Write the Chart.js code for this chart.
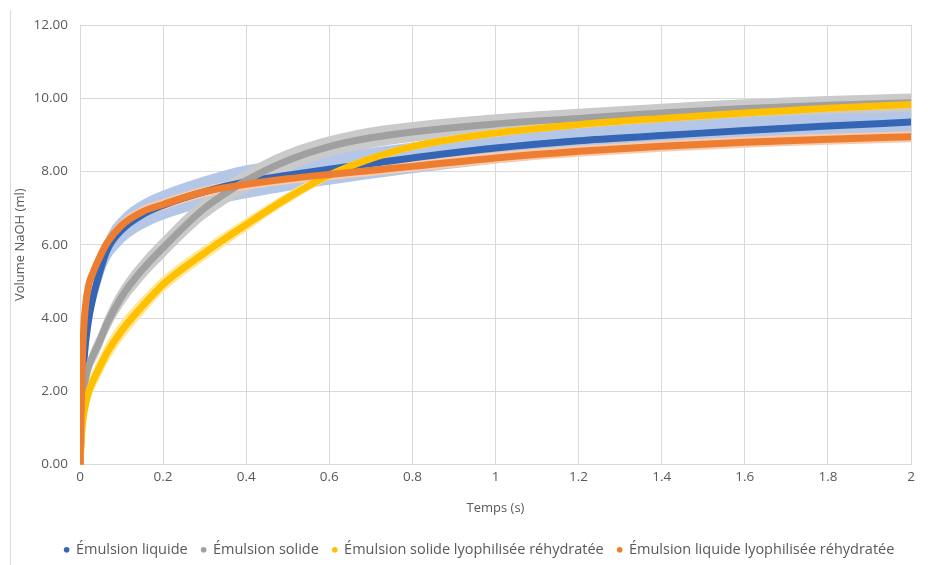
<!DOCTYPE html>
<html>
<head>
<meta charset="utf-8">
<script src="https://cdn.jsdelivr.net/npm/chart.js@4/dist/chart.umd.min.js"></script>
<style>
  html, body { margin: 0; padding: 0; background: #fff; }
  #wrap { position: relative; width: 928px; height: 565px; }
  #frame { position: absolute; left: 10px; top: 10px; width: 0; height: 555px; border-left: 1px solid #d9d9d9; }
</style>
</head>
<body>
<div id="wrap">
  <div id="frame"></div>
  <canvas id="chart" width="928" height="565"></canvas>
</div>
<script>
// time axis (s)
const timeS = [0, 0.005, 0.01, 0.02, 0.03, 0.045, 0.065, 0.1, 0.15, 0.2, 0.3, 0.4, 0.5, 0.6, 0.7, 0.8, 1.0, 1.2, 1.4, 1.6, 1.8, 2.0];

// mean volumes (ml) and spread for each sample
const liquide      = [0, 1.8, 2.9, 3.9, 4.5, 5.15, 5.85, 6.4, 6.82, 7.08, 7.45, 7.72, 7.9, 8.06, 8.22, 8.37, 8.64, 8.84, 8.98, 9.12, 9.24, 9.35];
const liquideSd    = [0, 0.2, 0.3, 0.35, 0.4, 0.4, 0.4, 0.4, 0.4, 0.4, 0.42, 0.45, 0.43, 0.42, 0.42, 0.42, 0.42, 0.4, 0.38, 0.37, 0.36, 0.35];
const solide       = [0, 1.5, 2.1, 2.65, 2.95, 3.3, 3.85, 4.58, 5.32, 5.92, 7.0, 7.75, 8.3, 8.68, 8.92, 9.08, 9.3, 9.45, 9.6, 9.72, 9.81, 9.88];
const solideSd     = [0, 0.15, 0.2, 0.25, 0.28, 0.3, 0.3, 0.3, 0.3, 0.3, 0.3, 0.3, 0.3, 0.28, 0.28, 0.27, 0.26, 0.26, 0.25, 0.25, 0.25, 0.25];
const solideLyo    = [0, 1.0, 1.45, 1.95, 2.25, 2.6, 3.05, 3.65, 4.32, 4.92, 5.78, 6.55, 7.28, 7.9, 8.35, 8.68, 9.05, 9.28, 9.45, 9.6, 9.73, 9.83];
const solideLyoSd  = [0, 0.2, 0.25, 0.3, 0.3, 0.3, 0.3, 0.28, 0.25, 0.22, 0.2, 0.18, 0.15, 0.12, 0.1, 0.1, 0.1, 0.1, 0.1, 0.1, 0.1, 0.1];
const liquideLyo   = [0, 2.6, 3.9, 4.85, 5.2, 5.6, 6.05, 6.53, 6.9, 7.1, 7.45, 7.65, 7.8, 7.92, 8.03, 8.14, 8.37, 8.55, 8.69, 8.8, 8.88, 8.95];
const liquideLyoSd = [0, 0.1, 0.12, 0.15, 0.15, 0.15, 0.15, 0.15, 0.15, 0.15, 0.15, 0.15, 0.15, 0.15, 0.15, 0.15, 0.15, 0.15, 0.15, 0.15, 0.15, 0.15];

const seriesNames = ["Émulsion liquide", "Émulsion solide", "Émulsion solide lyophilisée réhydratée", "Émulsion liquide lyophilisée réhydratée"];
const xTicks = [0, 0.2, 0.4, 0.6, 0.8, 1, 1.2, 1.4, 1.6, 1.8, 2];
const yTicks = [0, 2, 4, 6, 8, 10, 12];

const FONT = "'Open Sans', sans-serif";
const TXT = "#595959";

const toPts = (ys) => timeS.map((t, i) => ({ x: t, y: ys[i] }));
const band = (ys, sd, sign) => timeS.map((t, i) => ({ x: t, y: ys[i] + sign * sd[i] }));

const lineSet = (label, ys, color, order) => ({
  label,
  data: toPts(ys),
  borderColor: color,
  backgroundColor: color,
  borderWidth: 7,
  borderCapStyle: "round",
  pointRadius: 0,
  fill: false,
  cubicInterpolationMode: "monotone",
  order
});

const bandSets = (ys, sd, color, order) => [
  { label: "_hi", data: band(ys, sd, 1), borderWidth: 0, pointRadius: 0, fill: false, cubicInterpolationMode: "monotone", order },
  { label: "_lo", data: band(ys, sd, -1), borderWidth: 0, pointRadius: 0, backgroundColor: color, fill: "-1", cubicInterpolationMode: "monotone", order }
];

const datasets = [
  lineSet(seriesNames[0], liquide, "#3565B5", 3),
  lineSet(seriesNames[1], solide, "#A0A0A0", 2),
  lineSet(seriesNames[2], solideLyo, "#FFC000", 1),
  lineSet(seriesNames[3], liquideLyo, "#ED7D31", 0),
  ...bandSets(liquide, liquideSd, "#B4C7E7", 13),
  ...bandSets(solide, solideSd, "#CACACA", 12),
  ...bandSets(solideLyo, solideLyoSd, "#FFE699", 11),
  ...bandSets(liquideLyo, liquideLyoSd, "#F8CBAD", 10)
];

// nudge the legend a bit to the right and down, like the original
const legendNudge = {
  id: "legendNudge",
  afterLayout(chart) {
    const lg = chart.legend;
    lg.left += 18; lg.right += 18;
    lg.top += 2; lg.bottom += 2;
  }
};

new Chart(document.getElementById("chart").getContext("2d"), {
  type: "line",
  data: { datasets },
  plugins: [legendNudge],
  options: {
    responsive: false,
    animation: false,
    layout: { padding: { top: 25, right: 17, left: 12, bottom: 0 } },
    scales: {
      x: {
        type: "linear",
        min: 0, max: 2,
        afterBuildTicks: (s) => { s.ticks = xTicks.map(v => ({ value: v })); },
        afterFit: (s) => { s.height = 62; },
        ticks: {
          color: TXT, font: { family: FONT, size: 13.5 }, padding: 5,
          maxRotation: 0,
          callback: (v) => String(Number(v.toFixed(1)))
        },
        grid: { color: "#d9d9d9", drawTicks: false },
        border: { color: "#d9d9d9" },
        title: { display: true, text: "Temps (s)", color: TXT, font: { family: FONT, size: 13 }, padding: { top: 0, bottom: 10 } }
      },
      y: {
        min: 0, max: 12,
        afterBuildTicks: (s) => { s.ticks = yTicks.map(v => ({ value: v })); },
        afterFit: (s) => { s.width = 68; },
        ticks: {
          color: TXT, font: { family: FONT, size: 13.5 }, padding: 12,
          callback: (v) => v.toFixed(2)
        },
        grid: { color: "#d9d9d9", drawTicks: false },
        border: { color: "#d9d9d9" },
        title: { display: true, text: "Volume NaOH (ml)", color: TXT, font: { family: FONT, size: 13 }, padding: { top: 0, bottom: 0 } }
      }
    },
    plugins: {
      tooltip: { enabled: false },
      legend: {
        position: "bottom",
        labels: {
          color: TXT,
          font: { family: FONT, size: 14.5 },
          usePointStyle: true,
          pointStyle: "circle",
          boxWidth: 4, boxHeight: 4,
          padding: 14,
          filter: (item) => item.datasetIndex < 4,
          sort: (a, b) => a.datasetIndex - b.datasetIndex,
          generateLabels: (chart) => Chart.defaults.plugins.legend.labels.generateLabels(chart).map(l => ({ ...l, lineWidth: 0 }))
        }
      }
    }
  }
});
</script>
</body>
</html>
